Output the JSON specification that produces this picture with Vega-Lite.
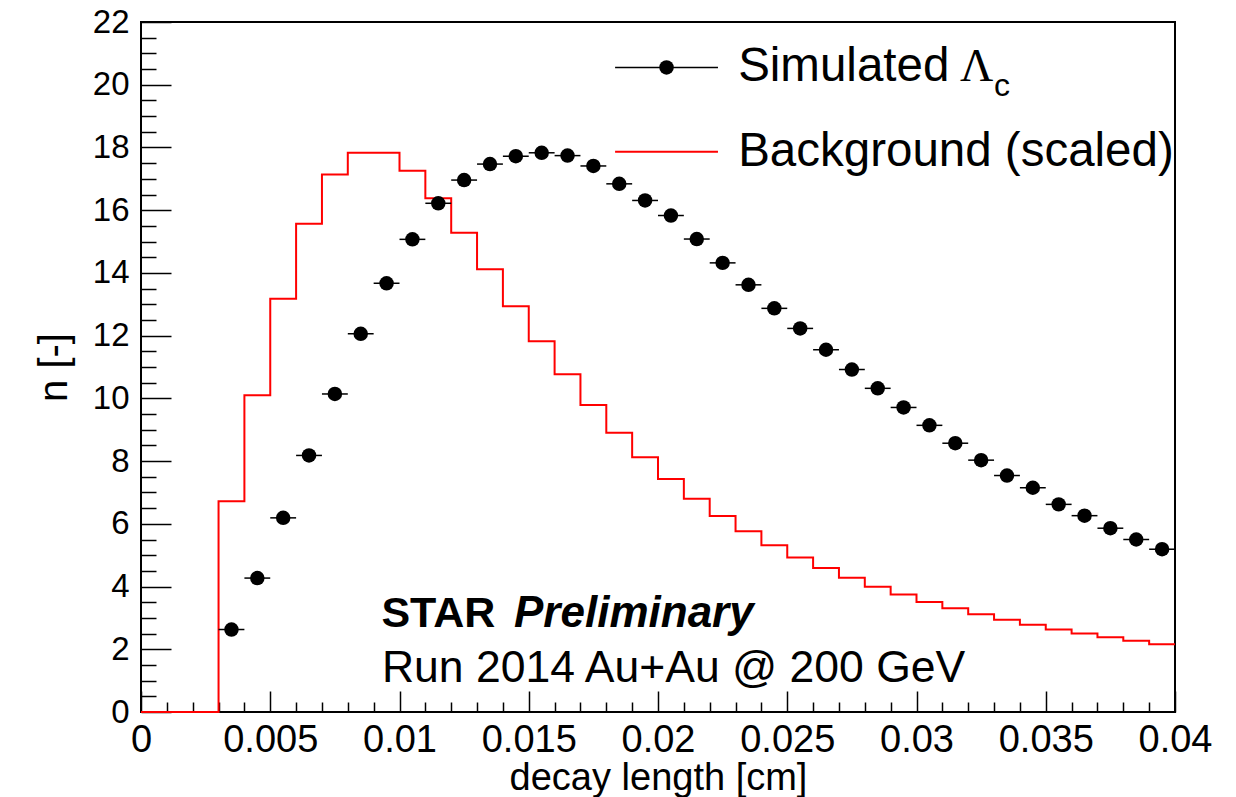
{
  "$schema": "https://vega.github.io/schema/vega-lite/v6.json",
  "width": 1034,
  "height": 690,
  "autosize": "none",
  "padding": {"left": 141, "top": 22, "right": 61, "bottom": 85},
  "background": "white",
  "config": {
    "font": "Liberation Sans",
    "view": {"stroke": "black", "strokeWidth": 2},
    "axis": {"grid": false, "domain": false, "tickColor": "black", "tickWidth": 1.5, "labelColor": "black", "titleColor": "black", "labelFont": "Liberation Sans", "titleFont": "Liberation Sans", "labelFontWeight": "normal", "titleFontWeight": "normal", "labelFlush": false, "labelOverlap": false}
  },
  "datasets": {
    "one": [{}],
    "bg": [
      {"x": 0.000, "n": 0}, {"x": 0.001, "n": 0}, {"x": 0.002, "n": 0},
      {"x": 0.003, "n": 6.72}, {"x": 0.004, "n": 10.10}, {"x": 0.005, "n": 13.18},
      {"x": 0.006, "n": 15.57}, {"x": 0.007, "n": 17.14}, {"x": 0.008, "n": 17.83},
      {"x": 0.009, "n": 17.83}, {"x": 0.010, "n": 17.26}, {"x": 0.011, "n": 16.38},
      {"x": 0.012, "n": 15.28}, {"x": 0.013, "n": 14.12}, {"x": 0.014, "n": 12.94},
      {"x": 0.015, "n": 11.82}, {"x": 0.016, "n": 10.77}, {"x": 0.017, "n": 9.79},
      {"x": 0.018, "n": 8.90}, {"x": 0.019, "n": 8.12}, {"x": 0.020, "n": 7.43},
      {"x": 0.021, "n": 6.80}, {"x": 0.022, "n": 6.25}, {"x": 0.023, "n": 5.76},
      {"x": 0.024, "n": 5.32}, {"x": 0.025, "n": 4.93}, {"x": 0.026, "n": 4.59},
      {"x": 0.027, "n": 4.28}, {"x": 0.028, "n": 3.99}, {"x": 0.029, "n": 3.75},
      {"x": 0.030, "n": 3.51}, {"x": 0.031, "n": 3.31}, {"x": 0.032, "n": 3.12},
      {"x": 0.033, "n": 2.94}, {"x": 0.034, "n": 2.78}, {"x": 0.035, "n": 2.63},
      {"x": 0.036, "n": 2.50}, {"x": 0.037, "n": 2.38}, {"x": 0.038, "n": 2.27},
      {"x": 0.039, "n": 2.16}, {"x": 0.040, "n": 2.16}
    ],
    "sig": [
      {"x": 0.0035, "lo": 0.003, "hi": 0.004, "n": 2.63},
      {"x": 0.0045, "lo": 0.004, "hi": 0.005, "n": 4.27},
      {"x": 0.0055, "lo": 0.005, "hi": 0.006, "n": 6.19},
      {"x": 0.0065, "lo": 0.006, "hi": 0.007, "n": 8.18},
      {"x": 0.0075, "lo": 0.007, "hi": 0.008, "n": 10.14},
      {"x": 0.0085, "lo": 0.008, "hi": 0.009, "n": 12.06},
      {"x": 0.0095, "lo": 0.009, "hi": 0.010, "n": 13.67},
      {"x": 0.0105, "lo": 0.010, "hi": 0.011, "n": 15.07},
      {"x": 0.0115, "lo": 0.011, "hi": 0.012, "n": 16.22},
      {"x": 0.0125, "lo": 0.012, "hi": 0.013, "n": 16.96},
      {"x": 0.0135, "lo": 0.013, "hi": 0.014, "n": 17.47},
      {"x": 0.0145, "lo": 0.014, "hi": 0.015, "n": 17.72},
      {"x": 0.0155, "lo": 0.015, "hi": 0.016, "n": 17.83},
      {"x": 0.0165, "lo": 0.016, "hi": 0.017, "n": 17.74},
      {"x": 0.0175, "lo": 0.017, "hi": 0.018, "n": 17.41},
      {"x": 0.0185, "lo": 0.018, "hi": 0.019, "n": 16.84},
      {"x": 0.0195, "lo": 0.019, "hi": 0.020, "n": 16.31},
      {"x": 0.0205, "lo": 0.020, "hi": 0.021, "n": 15.83},
      {"x": 0.0215, "lo": 0.021, "hi": 0.022, "n": 15.08},
      {"x": 0.0225, "lo": 0.022, "hi": 0.023, "n": 14.32},
      {"x": 0.0235, "lo": 0.023, "hi": 0.024, "n": 13.62},
      {"x": 0.0245, "lo": 0.024, "hi": 0.025, "n": 12.87},
      {"x": 0.0255, "lo": 0.025, "hi": 0.026, "n": 12.23},
      {"x": 0.0265, "lo": 0.026, "hi": 0.027, "n": 11.55},
      {"x": 0.0275, "lo": 0.027, "hi": 0.028, "n": 10.92},
      {"x": 0.0285, "lo": 0.028, "hi": 0.029, "n": 10.32},
      {"x": 0.0295, "lo": 0.029, "hi": 0.030, "n": 9.71},
      {"x": 0.0305, "lo": 0.030, "hi": 0.031, "n": 9.14},
      {"x": 0.0315, "lo": 0.031, "hi": 0.032, "n": 8.57},
      {"x": 0.0325, "lo": 0.032, "hi": 0.033, "n": 8.03},
      {"x": 0.0335, "lo": 0.033, "hi": 0.034, "n": 7.54},
      {"x": 0.0345, "lo": 0.034, "hi": 0.035, "n": 7.15},
      {"x": 0.0355, "lo": 0.035, "hi": 0.036, "n": 6.62},
      {"x": 0.0365, "lo": 0.036, "hi": 0.037, "n": 6.26},
      {"x": 0.0375, "lo": 0.037, "hi": 0.038, "n": 5.86},
      {"x": 0.0385, "lo": 0.038, "hi": 0.039, "n": 5.50},
      {"x": 0.0395, "lo": 0.039, "hi": 0.040, "n": 5.19}
    ]
  },
  "layer": [
    {
      "data": {"name": "bg"},
      "mark": {"type": "line", "interpolate": "step-after", "color": "#ff0000", "strokeWidth": 2},
      "encoding": {
        "x": {"field": "x", "type": "quantitative", "scale": {"domain": [0, 0.04], "nice": false, "zero": false},
          "axis": {"orient": "bottom", "values": [0, 0.005, 0.01, 0.015, 0.02, 0.025, 0.03, 0.035, 0.04], "format": "~g", "ticks": false, "labelFontSize": 38, "labelPadding": 9, "title": "decay length [cm]", "titleFontSize": 38, "titlePadding": 0}},
        "y": {"field": "n", "type": "quantitative", "scale": {"domain": [0, 22], "nice": false, "zero": false},
          "axis": {"orient": "left", "values": [0, 2, 4, 6, 8, 10, 12, 14, 16, 18, 20, 22], "format": "d", "ticks": false, "labelFontSize": 33, "labelPadding": 12, "title": "n [-]", "titleFontSize": 40, "titlePadding": 18}}
      }
    },
    {
      "data": {"name": "sig"},
      "mark": {"type": "rule", "color": "black", "strokeWidth": 1.5},
      "encoding": {
        "x": {"field": "lo", "type": "quantitative", "scale": {"domain": [0, 0.04], "nice": false, "zero": false},
          "axis": {"orient": "bottom", "values": [0, 0.005, 0.01, 0.015, 0.02, 0.025, 0.03, 0.035, 0.04], "labels": false, "ticks": true, "tickSize": -21, "title": null}},
        "x2": {"field": "hi"},
        "y": {"field": "n", "type": "quantitative", "scale": {"domain": [0, 22], "nice": false, "zero": false},
          "axis": {"orient": "left", "values": [0, 2, 4, 6, 8, 10, 12, 14, 16, 18, 20, 22], "labels": false, "ticks": true, "tickSize": -30, "title": null}}
      }
    },
    {
      "data": {"name": "sig"},
      "mark": {"type": "point", "shape": "circle", "filled": true, "color": "black", "size": 210, "opacity": 1},
      "encoding": {
        "x": {"field": "x", "type": "quantitative", "scale": {"domain": [0, 0.04], "nice": false, "zero": false},
          "axis": {"orient": "bottom", "values": [0.001, 0.002, 0.003, 0.004, 0.006, 0.007, 0.008, 0.009, 0.011, 0.012, 0.013, 0.014, 0.016, 0.017, 0.018, 0.019, 0.021, 0.022, 0.023, 0.024, 0.026, 0.027, 0.028, 0.029, 0.031, 0.032, 0.033, 0.034, 0.036, 0.037, 0.038, 0.039], "labels": false, "ticks": true, "tickSize": -10, "title": null}},
        "y": {"field": "n", "type": "quantitative", "scale": {"domain": [0, 22], "nice": false, "zero": false},
          "axis": {"orient": "left", "values": [0.5, 1, 1.5, 2.5, 3, 3.5, 4.5, 5, 5.5, 6.5, 7, 7.5, 8.5, 9, 9.5, 10.5, 11, 11.5, 12.5, 13, 13.5, 14.5, 15, 15.5, 16.5, 17, 17.5, 18.5, 19, 19.5, 20.5, 21, 21.5], "labels": false, "ticks": true, "tickSize": -15, "title": null}}
      }
    },
    {
      "data": {"name": "one"},
      "mark": {"type": "rule", "color": "black", "strokeWidth": 1.5},
      "encoding": {
        "x": {"datum": 0.01834, "type": "quantitative", "axis": null},
        "x2": {"datum": 0.02232},
        "y": {"datum": 20.55, "type": "quantitative", "axis": null}
      }
    },
    {
      "data": {"name": "one"},
      "mark": {"type": "point", "shape": "circle", "filled": true, "color": "black", "size": 210, "opacity": 1},
      "encoding": {
        "x": {"datum": 0.02033, "type": "quantitative", "axis": null},
        "y": {"datum": 20.55, "type": "quantitative", "axis": null}
      }
    },
    {
      "data": {"name": "one"},
      "mark": {"type": "rule", "color": "#ff0000", "strokeWidth": 2},
      "encoding": {
        "x": {"datum": 0.01834, "type": "quantitative", "axis": null},
        "x2": {"datum": 0.02232},
        "y": {"datum": 17.86, "type": "quantitative", "axis": null}
      }
    },
    {
      "data": {"name": "one"},
      "mark": {"type": "text", "text": "Simulated", "align": "left", "baseline": "middle", "fontSize": 47.5, "font": "Liberation Sans", "color": "black"},
      "encoding": {
        "x": {"datum": 0.0231, "type": "quantitative", "axis": null},
        "y": {"datum": 20.55, "type": "quantitative", "axis": null}
      }
    },
    {
      "data": {"name": "one"},
      "mark": {"type": "text", "text": "Λ", "align": "left", "baseline": "middle", "fontSize": 46, "font": "Liberation Serif", "color": "black"},
      "encoding": {
        "x": {"datum": 0.03168, "type": "quantitative", "axis": null},
        "y": {"datum": 20.55, "type": "quantitative", "axis": null}
      }
    },
    {
      "data": {"name": "one"},
      "mark": {"type": "text", "text": "c", "align": "left", "baseline": "middle", "fontSize": 32, "font": "Liberation Sans", "color": "black"},
      "encoding": {
        "x": {"datum": 0.03300, "type": "quantitative", "axis": null},
        "y": {"datum": 19.95, "type": "quantitative", "axis": null}
      }
    },
    {
      "data": {"name": "one"},
      "mark": {"type": "text", "text": "Background (scaled)", "align": "left", "baseline": "middle", "fontSize": 47.5, "font": "Liberation Sans", "color": "black"},
      "encoding": {
        "x": {"datum": 0.0231, "type": "quantitative", "axis": null},
        "y": {"datum": 17.86, "type": "quantitative", "axis": null}
      }
    },
    {
      "data": {"name": "one"},
      "mark": {"type": "text", "text": "STAR", "align": "left", "baseline": "middle", "fontSize": 43, "fontWeight": "bold", "font": "Liberation Sans", "color": "black"},
      "encoding": {
        "x": {"datum": 0.0093, "type": "quantitative", "axis": null},
        "y": {"datum": 3.12, "type": "quantitative", "axis": null}
      }
    },
    {
      "data": {"name": "one"},
      "mark": {"type": "text", "text": "Preliminary", "align": "left", "baseline": "middle", "fontSize": 44, "fontWeight": "bold", "fontStyle": "italic", "font": "Liberation Sans", "color": "black"},
      "encoding": {
        "x": {"datum": 0.01443, "type": "quantitative", "axis": null},
        "y": {"datum": 3.12, "type": "quantitative", "axis": null}
      }
    },
    {
      "data": {"name": "one"},
      "mark": {"type": "text", "text": "Run 2014 Au+Au @ 200 GeV", "align": "left", "baseline": "middle", "fontSize": 44.5, "font": "Liberation Sans", "color": "black"},
      "encoding": {
        "x": {"datum": 0.00932, "type": "quantitative", "axis": null},
        "y": {"datum": 1.38, "type": "quantitative", "axis": null}
      }
    }
  ],
  "resolve": {"axis": {"x": "independent", "y": "independent"}}
}
